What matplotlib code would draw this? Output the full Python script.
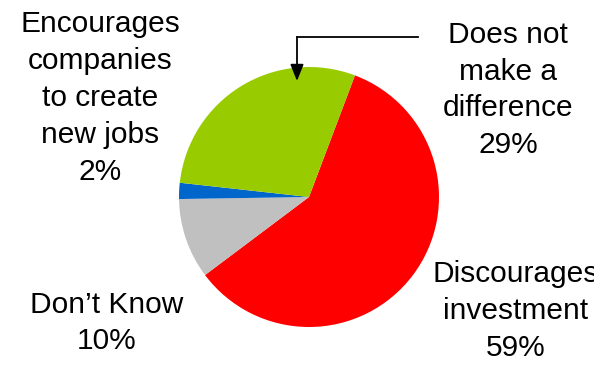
import matplotlib.pyplot as plt

plt.rcParams['font.family'] = ['Liberation Sans', 'DejaVu Sans']

# Survey answers and shares (%)
answers = ["Discourages\ninvestment", "Don\u2019t Know",
           "Encourages\ncompanies\nto create\nnew jobs", "Does not\nmake a\ndifference"]
shares = [59, 10, 2, 29]
colours = ["#FF0000", "#C0C0C0", "#0066CC", "#99CC00"]

W, H = 594, 368
fig = plt.figure(figsize=(W / 100, H / 100), dpi=100)
ax = fig.add_axes([0, 0, 1, 1])

cx, cy, r = 309, H - 197, 130
ax.pie(shares, colors=colours, startangle=69.3, counterclock=False,
       center=(cx, cy), radius=r, frame=True,
       wedgeprops=dict(linewidth=0))
ax.set_xlim(0, W)
ax.set_ylim(0, H)
ax.set_aspect("equal")
ax.axis("off")

label_pos = [(516, H - 311), (107, H - 323), (100, H - 98), (508, H - 90)]
for text, val, (x, y) in zip(answers, shares, label_pos):
    ax.text(x, y, f"{text}\n{val}%", ha="center", va="center",
            fontsize=21.5, linespacing=1.4, color="black")

# Leader arrow to the "no difference" slice
ax.plot([418, 297], [H - 37, H - 37], color="black", lw=1.3)
ax.annotate("", xy=(297, H - 81), xytext=(297, H - 37),
            arrowprops=dict(arrowstyle="-|>,head_length=1.0,head_width=0.4",
                            color="black", lw=1.3, shrinkA=0, shrinkB=0))

fig.savefig("out.png", dpi=100)
